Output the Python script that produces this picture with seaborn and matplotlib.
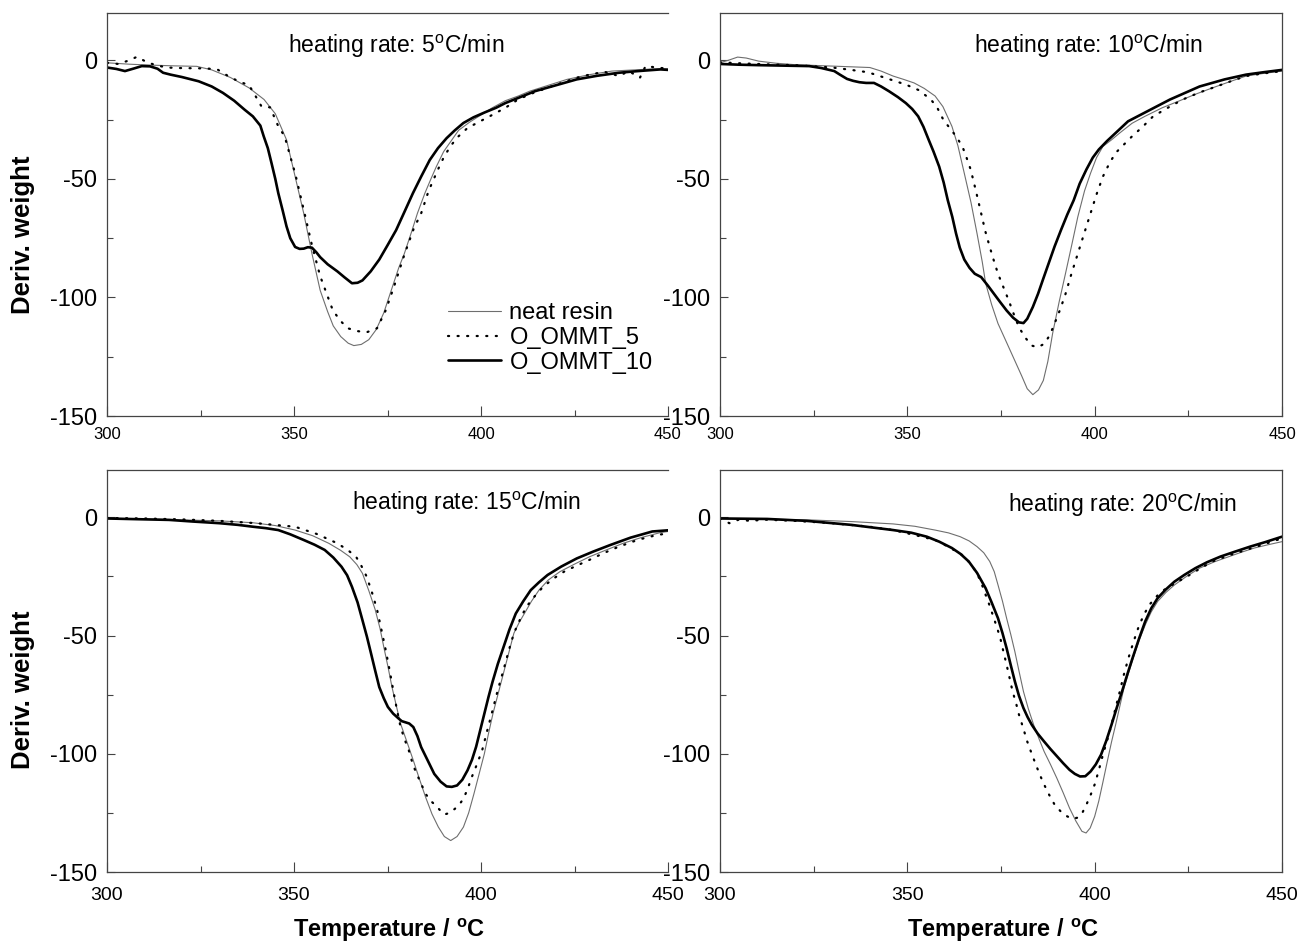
import matplotlib
matplotlib.use("Agg")
import matplotlib.pyplot as plt
from matplotlib.ticker import MultipleLocator
from matplotlib.lines import Line2D
import seaborn as sns
import pandas as pd

# ---- heating rate 5 C/min ----
T5_neat = [300, 306, 312, 318, 324, 328, 333, 338, 342, 345, 348, 350.3, 352.6, 354.8, 357, 359, 360.5,
           362.5, 364.5, 366, 368, 370, 372, 374, 376, 378, 379.5, 381.5, 383, 385, 386.5, 388, 390, 392,
           394, 397, 400, 403, 406.5, 410, 413, 418, 423, 429, 435, 441, 446, 450]
D5_neat = [-1.0, -1.6, -2.0, -2.3, -2.5, -4.0, -7.2, -11.6, -16.5, -22.5, -33.5, -49, -64.5, -81.5, -97,
           -106, -112, -116.5, -119.3, -120.3, -119.8, -117.8, -113.5, -106.5, -97, -87.5, -81.5, -72, -64.5,
           -56, -50.4, -45, -38.5, -34, -29.5, -26, -23, -20, -17, -15, -13, -10.5, -8, -6, -4.5, -4, -3.6, -3.5]
T5_o5 = [300, 303, 305.5, 308, 310.5, 313, 316, 319, 323, 326.7, 329.5, 332.4, 335, 338, 339.7, 341.3, 343.6,
         345.8, 347.5, 349, 350.3, 352.6, 354.8, 357, 360.4, 362.5, 364.4, 367, 369.4, 372.2, 374.5, 376.7,
         379.5, 382, 384, 386, 388.5, 390, 391.9, 394, 396.4, 400, 403, 406.5, 409.9, 413.5, 417.7, 421.5,
         425.6, 429, 433, 436.9, 439.5, 442.5, 444, 447, 450]
D5_o5 = [-1.0, -1.5, -0.2, 1.5, -0.6, -2.0, -3.0, -3.2, -3.3, -3.4, -3.8, -6.6, -8.7, -10.5, -15, -19.4, -19.8,
         -27.8, -32, -40.5, -47.6, -63, -78, -91, -105.5, -110, -113, -114.2, -114.7, -113, -105.5, -95.6, -82,
         -71, -64.5, -55, -46, -41, -36, -32, -28.5, -25.5, -23, -20, -16.5, -14, -11.6, -9.5, -7.3, -6.0, -4.8,
         -6.6, -4.5, -7.3, -2.4, -3.0, -3.5]
T5_o10 = [300, 302.5, 304.8, 307, 309.3, 311.5, 313.5, 315, 317, 320, 324.5, 328, 331, 334, 336.8, 339, 341,
          341.9, 343, 344, 345, 345.8, 347, 348, 349, 350.3, 351.5, 352.6, 353.7, 354.8, 356, 357, 359, 361.6,
          363.5, 365.5, 367, 368.3, 370.5, 372.8, 375, 377.3, 379.5, 381.8, 384, 386.3, 388.5, 390.8, 393,
          395.3, 398, 400.9, 404, 406.5, 410, 414.4, 420, 425.6, 431, 436.9, 442, 448, 450]
D5_o10 = [-3.0, -3.6, -4.5, -3.5, -2.4, -2.5, -3.5, -5.2, -6.0, -7.0, -8.8, -11, -13.7, -17, -20.8, -23.6,
          -27.5, -32, -37, -43.4, -50, -56, -63.5, -70, -75, -78.7, -79.5, -79.4, -78.8, -79, -81, -83, -86,
          -89, -91.5, -94, -93.8, -92.8, -89, -84, -78, -71.6, -64, -56, -49, -42, -37, -32.8, -29.5, -26.4,
          -24, -22, -20, -18, -15.8, -13, -10.5, -8, -6.5, -5.2, -4.5, -3.8, -4.0]

# ---- heating rate 10 C/min ----
T10_neat = [300, 302.5, 304.7, 307, 310.3, 315, 320, 325, 330, 335, 340, 343, 346.2, 349, 351.8, 354.5, 357.4,
            359.5, 361.9, 363.5, 365.2, 367, 368.6, 370, 370.9, 372.5, 374.2, 376.5, 378.7, 380.5, 382,
            383.5, 385, 386.3, 387.5, 388.8, 390.5, 392.2, 394, 395.5, 397.3, 398.9, 400.5, 402.2, 404.5,
            406.7, 410, 413.4, 418, 422.4, 427, 431.4, 436, 440.4, 445, 450]
D10_neat = [-1.0, 0.2, 1.4, 1.0, -0.3, -1.2, -1.8, -2.1, -2.4, -2.7, -3.0, -4.5, -6.6, -8.0, -9.5, -11.8, -15,
            -19.5, -27.8, -36, -47.6, -60, -73, -85, -94, -103, -111, -119, -126.7, -133, -138.5, -141, -139,
            -135, -127, -115, -102, -90, -77, -66, -55, -47.6, -41, -36.3, -33.5, -30.6, -26.5, -23.6, -20,
            -17.2, -14.2, -11.6, -9, -6.6, -5.5, -4.5]
T10_o5 = [300, 305, 310, 315, 320, 325, 330, 335, 339.5, 344, 349.6, 353, 356.3, 358, 359.6, 361.3, 363, 364.7,
          365.8, 366.9, 368.3, 369.7, 370.8, 372, 373.1, 374.2, 375.6, 377, 378.4, 379.8, 381.5, 383.2, 384.8,
          386.5, 388, 389.3, 390.8, 392.2, 393.8, 395.5, 397.2, 398.9, 400.5, 402.2, 403.9, 405.6, 407.8, 410,
          412.8, 415.6, 419.5, 423.5, 428, 432.5, 436.5, 440.4, 445, 450]
D10_o5 = [-0.8, -1.2, -1.5, -1.8, -2.0, -2.5, -3.0, -4.0, -5.0, -7.3, -10.2, -12.5, -16.5, -20, -25, -28.5,
          -32, -36.3, -41, -46, -55, -64.5, -72, -78.7, -84.5, -90, -95.5, -101, -107, -112.6, -117, -120.3,
          -121, -119.6, -116, -111, -105, -98.6, -90, -81.5, -73, -64.5, -56.5, -49, -43.5, -39, -35.5, -32,
          -28, -23.6, -20, -16.5, -13.5, -11, -8.7, -6.6, -5.5, -4.5]
T10_o10 = [300, 305, 310.3, 317, 323.8, 327, 330.5, 332, 333.9, 335.5, 337.2, 339, 341.1, 343, 345.1, 347.5,
           349.6, 351.3, 352.9, 354.3, 355.7, 357, 358.5, 359.7, 360.8, 362, 363, 364, 365.2, 366.6, 368,
           369.7, 371.5, 373.1, 374.8, 376.5, 378.2, 379.8, 381, 382, 383.5, 384.9, 386.3, 387.7, 389.3, 391,
           392.7, 394.4, 396, 397.8, 399.5, 401.1, 403.3, 405.6, 408.9, 413.4, 420.1, 428, 434.7, 440.4, 445, 450]
D10_o10 = [-1.5, -1.8, -2.0, -2.2, -2.4, -3.2, -4.5, -6.0, -7.8, -8.6, -9.2, -9.5, -9.5, -11, -13, -15.5, -18,
           -20.5, -23.6, -28, -33.5, -38.5, -44.8, -51.5, -59, -66, -73, -79, -84, -87.5, -90, -91.4, -95,
           -98.4, -102, -105.5, -108.5, -110.5, -110.8, -109, -104, -98.4, -92, -85.7, -78.5, -71.6, -65, -59,
           -52, -46, -41, -37.6, -34, -30.6, -25.7, -22, -16.5, -11, -8, -6, -5, -4]

# ---- heating rate 15 C/min ----
T15_neat = [300, 310, 320, 330, 339, 345, 350.3, 355, 359.3, 362.5, 364.9, 366.8, 368.3, 370, 371.7, 373, 374,
            375.1, 376.2, 377.4, 378.5, 380.2, 381.9, 383.5, 385.2, 386.9, 388.6, 390.2, 391.9, 393.6, 395.3,
            396.7, 398.1, 399.5, 400.9, 402, 403.2, 404.6, 406, 407.4, 408.8, 410.2, 411.6, 413.5, 415.5, 418,
            421.1, 425, 429, 433.5, 438, 443, 447.9, 450]
D15_neat = [-0.5, -0.8, -1.1, -1.5, -2.3, -3.5, -5.4, -7.8, -11, -14, -16.7, -20, -23.7, -31, -39, -47, -54.8,
            -63, -71.8, -80, -87.3, -95, -102.8, -110.5, -118.4, -125.5, -131, -135, -136.7, -135, -131, -125,
            -117, -108.5, -100, -91.5, -83, -74.5, -66, -57.5, -49, -44.5, -40.7, -35.5, -30.8, -26.5, -23,
            -19.8, -16.7, -13.8, -11, -8.5, -6.5, -6.0]
T15_o5 = [300, 310, 320, 330, 340, 350.3, 356, 361.6, 364.5, 366.6, 368, 369.4, 370.8, 372.2, 373.3, 374.5,
          375.6, 376.7, 377.6, 378.5, 379.6, 380.7, 381.5, 382.4, 383.8, 385.2, 386.6, 388, 389.1, 390.2,
          391.6, 393, 394.2, 395.3, 396.4, 397.5, 398.9, 400.3, 401.7, 403.1, 404.5, 406, 407.4, 408.8, 410.5,
          412.1, 414.3, 416.6, 419.3, 422.2, 425.5, 429, 433, 436.9, 442, 447, 450]
D15_o5 = [-0.3, -0.5, -0.9, -1.5, -2.5, -4.0, -7.0, -11, -14, -16.7, -20.5, -25, -31.5, -39, -47, -56, -65,
          -74.6, -82, -88.7, -94, -98.6, -103, -107, -112, -117, -120, -122, -124, -125.7, -125, -123.3,
          -121.5, -119, -115, -110, -104.5, -98.6, -90, -81.6, -73, -64.7, -56.5, -49, -43, -37.9, -33.5,
          -29.4, -26, -23, -20.5, -18, -15, -12.4, -9.5, -7.5, -6.8]
T15_o10 = [300, 308, 316.6, 323, 330.1, 335, 339.1, 342.5, 345.8, 349, 352.6, 355.5, 358.2, 360.5, 362.7,
           364.2, 365.5, 367, 368.3, 369.5, 370.6, 371.7, 372.8, 374, 375.1, 376.5, 377.9, 378.8, 379.6,
           380.8, 381.9, 383, 384, 385.8, 387.5, 389.2, 390.8, 392.2, 393.6, 395, 396.4, 397.6, 398.7, 399.8,
           400.9, 402, 403.1, 404.5, 406, 407.6, 409.3, 411.3, 413.3, 415.5, 417.8, 421.5, 425.6, 430, 434.6,
           440, 445.8, 450]
D15_o10 = [-0.5, -0.8, -1.1, -1.8, -2.5, -3.2, -4.0, -4.6, -5.4, -7.2, -9.6, -11.6, -13.8, -17, -20.9, -24.5,
           -29.4, -36, -43.5, -50.5, -57.6, -64.8, -71.8, -76.5, -80.2, -83, -85, -86.2, -86.6, -87.2, -88.7,
           -92.5, -97.2, -103, -108.5, -111.8, -113.8, -114, -113.4, -111, -107, -102.5, -97, -90, -83, -76,
           -69.5, -62, -55, -47.5, -40.7, -35.5, -30.8, -27.5, -24.4, -20.8, -17.4, -14.5, -11.7, -8.6, -6.0, -5.5]

# ---- heating rate 20 C/min ----
T20_neat = [300, 312, 323.8, 335, 346.2, 352, 357.4, 361, 364.1, 366.5, 368.6, 370.4, 372, 373.2, 374.2,
            375.4, 376.5, 377.6, 378.7, 379.8, 381, 382.3, 383.7, 385.1, 386.5, 388.2, 389.9, 391.6, 393.3,
            395, 396.6, 397.7, 398.8, 400, 401.1, 402.2, 403.4, 404.5, 405.6, 406.7, 407.8, 409.2, 410.6, 412,
            413.5, 415.1, 416.8, 419, 421.3, 424.5, 428, 432, 435.9, 439.3, 442.6, 446.3, 450]
D20_neat = [-0.5, -0.8, -1.1, -1.8, -2.8, -3.8, -5.4, -6.6, -8.2, -10, -12.4, -15, -18.7, -23, -28.6, -35.5,
            -42.7, -49.5, -56.8, -65, -73.7, -81, -87.7, -93.5, -99, -104.5, -110.3, -116.5, -123, -128.5,
            -132.8, -133.5, -131.4, -126.5, -120, -112, -103, -95, -87.7, -80, -72.3, -65, -58, -51.5, -45.5,
            -40, -35.6, -31.8, -28.6, -25, -21.5, -18.8, -16.6, -14.7, -13, -11.6, -10.3]
T20_o5 = [300, 302.5, 305, 308, 312, 320, 330, 340, 346.2, 352, 357.4, 361, 364.7, 366.8, 368.6, 369.8, 370.9,
          372, 373.1, 374, 374.8, 375.6, 376.5, 377.3, 378.1, 379, 379.8, 380.9, 382, 383.2, 384.3, 385.4,
          386.5, 387.9, 389.3, 391, 392.7, 394.1, 395.5, 396.7, 397.8, 398.9, 400, 401.1, 402.2, 403.4, 404.5,
          405.6, 406.7, 407.8, 409, 410.4, 411.8, 413.2, 414.6, 416.8, 419.1, 421.9, 424.7, 428, 431.4, 436,
          440.4, 445, 450]
D20_o5 = [-0.5, -2.5, -1.0, -1.5, -1.0, -1.5, -2.5, -4.0, -5.4, -7.5, -9.6, -12.5, -16, -19.5, -23.7, -28,
          -32.8, -37.5, -42.7, -47, -51, -56.5, -62.4, -68, -73.7, -78.5, -83.5, -89, -94.8, -100, -104.6,
          -109, -113, -117.5, -121.5, -124.5, -126.5, -127.5, -127, -125, -121.5, -117.5, -113, -107, -100.4,
          -94, -87.7, -80.5, -73.7, -66.5, -59.6, -52.5, -46, -41, -37, -33, -30, -27.5, -25, -21.8,
          -18.7, -16, -13.8, -11.5, -8.9]
T20_o10 = [300, 312.6, 323, 335, 346.2, 351, 355.2, 358.5, 361.9, 364.2, 366.4, 368.6, 370.9, 372.5, 374.2,
           375.4, 376.5, 377.6, 378.7, 379.8, 381, 382.1, 383.2, 384.8, 386.5, 388.2, 389.9, 391.6, 393.3,
           394.7, 396.1, 397.5, 398.9, 400.3, 401.7, 403.1, 404.5, 405.9, 407.3, 408.7, 410.1, 411.8, 413.5,
           415.1, 416.8, 419, 421.3, 424, 426.9, 430, 433.6, 437.5, 441.5, 445.5, 450]
D20_o10 = [-0.5, -0.7, -1.5, -3.2, -5.4, -6.5, -8.2, -10.3, -13, -15.5, -18.7, -23.5, -30, -36, -42.7, -49,
           -55.4, -62.5, -69.4, -75.5, -80.7, -84.5, -87.7, -91.5, -94.8, -98, -101, -104, -106.8, -108.5,
           -109.6, -109.5, -107.5, -104.5, -100.4, -94.5, -87.7, -80.5, -73.7, -66.5, -59.6, -51.5, -44,
           -38.5, -34.2, -30.5, -27.2, -24.3, -21.5, -19, -16.6, -14.5, -12.4, -10.5, -8.2]

series_names = ["neat resin", "O_OMMT_5", "O_OMMT_10"]
rates = [5, 10, 15, 20]
panel_titles = ["heating rate: 5$^{\\mathrm{o}}$C/min", "heating rate: 10$^{\\mathrm{o}}$C/min",
                "heating rate: 15$^{\\mathrm{o}}$C/min", "heating rate: 20$^{\\mathrm{o}}$C/min"]
x_ticks = [300, 350, 400, 450]
y_ticks = [-150, -100, -50, 0]

panel_data = {
    5: [(T5_neat, D5_neat), (T5_o5, D5_o5), (T5_o10, D5_o10)],
    10: [(T10_neat, D10_neat), (T10_o5, D10_o5), (T10_o10, D10_o10)],
    15: [(T15_neat, D15_neat), (T15_o5, D15_o5), (T15_o10, D15_o10)],
    20: [(T20_neat, D20_neat), (T20_o5, D20_o5), (T20_o10, D20_o10)],
}

sns.set_theme(style="ticks")
plt.rcParams["font.family"] = ["Liberation Sans", "DejaVu Sans"]
plt.rcParams["mathtext.fontset"] = "custom"
plt.rcParams["mathtext.rm"] = "Liberation Sans"
plt.rcParams["mathtext.bf"] = "Liberation Sans:bold"
plt.rcParams["axes.unicode_minus"] = False
plt.rcParams["text.color"] = "black"
plt.rcParams["xtick.labelcolor"] = "black"
plt.rcParams["ytick.labelcolor"] = "black"

W, H = 1299, 947
fig = plt.figure(figsize=(W / 100, H / 100), dpi=100)
fig.patch.set_facecolor("white")

# axes boxes in pixels: (left, top, right, bottom)
boxes = [(107, 13, 668, 416), (720, 13, 1282, 416), (107, 470, 668, 872), (720, 470, 1282, 872)]
title_pos = [(348.5, 6), (367.7, 6), (365.6, 6), (377.0, 5)]

styles = [
    dict(color="#6e6e6e", linewidth=0.8, linestyle="-"),
    dict(color="black", linewidth=1.6, linestyle=(0, (0.5, 3.8)), dash_capstyle="round"),
    dict(color="black", linewidth=1.9, linestyle="-"),
]

axes = []
for i, (rate, (l, t, r, b)) in enumerate(zip(rates, boxes)):
    ax = fig.add_axes([l / W, 1 - b / H, (r - l) / W, (b - t) / H])
    axes.append(ax)
    for name, (tx, dy), st in zip(series_names, panel_data[rate], styles):
        df = pd.DataFrame({"T": tx, "D": dy})
        sns.lineplot(data=df, x="T", y="D", ax=ax, sort=False, estimator=None, **st)
    ax.set_xlim(300, 450)
    ax.set_ylim(-150, 20)
    ax.set_xticks(x_ticks)
    ax.set_yticks(y_ticks)
    ax.xaxis.set_minor_locator(MultipleLocator(25))
    ax.yaxis.set_minor_locator(MultipleLocator(25))
    ax.set_xlabel("")
    ax.set_ylabel("")
    top_row = i < 2
    ax.tick_params(axis="x", which="major", direction="in", length=7, width=0.8, color="#444444",
                   labelsize=12 if top_row else 14, pad=8 if top_row else 11, labelcolor="black")
    ax.tick_params(axis="x", which="minor", direction="in", length=4.5, width=0.8, color="#444444")
    ax.tick_params(axis="y", which="major", direction="in", length=6, width=0.8, color="#444444",
                   labelsize=17, pad=7, labelcolor="black")
    ax.tick_params(axis="y", which="minor", direction="in", length=4, width=0.8, color="#444444")
    for side, sp in ax.spines.items():
        sp.set_color("#444444")
        sp.set_linewidth(0.9)
    if i % 2 == 0:
        ax.spines["right"].set_visible(False)
    ax.set_facecolor("white")
    tx0, ty0 = title_pos[i]
    ax.text(tx0, ty0, panel_titles[i], fontsize=16.5, ha="left", va="center", color="black")

# legend in the first panel
handles = [Line2D([], [], **st) for st in styles]
leg = axes[0].legend(handles, series_names, loc="upper left",
                     bbox_to_anchor=((448 - 107) / 561, (416 - 302) / 403),
                     frameon=False, fontsize=17, handlelength=2.25, handletextpad=0.35, labelspacing=0.12,
                     borderpad=0, borderaxespad=0)
for txt in leg.get_texts():
    txt.set_color("black")

for yc in (235, 690):
    fig.text(23 / W, 1 - yc / H, "Deriv. weight", rotation=90, ha="center", va="center",
             fontsize=18.5, fontweight="bold", color="black")
for xc in (389, 1003):
    fig.text(xc / W, 1 - 930 / H, "Temperature / $^{\\mathbf{o}}$C", ha="center", va="center",
             fontsize=17, fontweight="bold", color="black")

fig.savefig("out.png", dpi=100, facecolor="white")
